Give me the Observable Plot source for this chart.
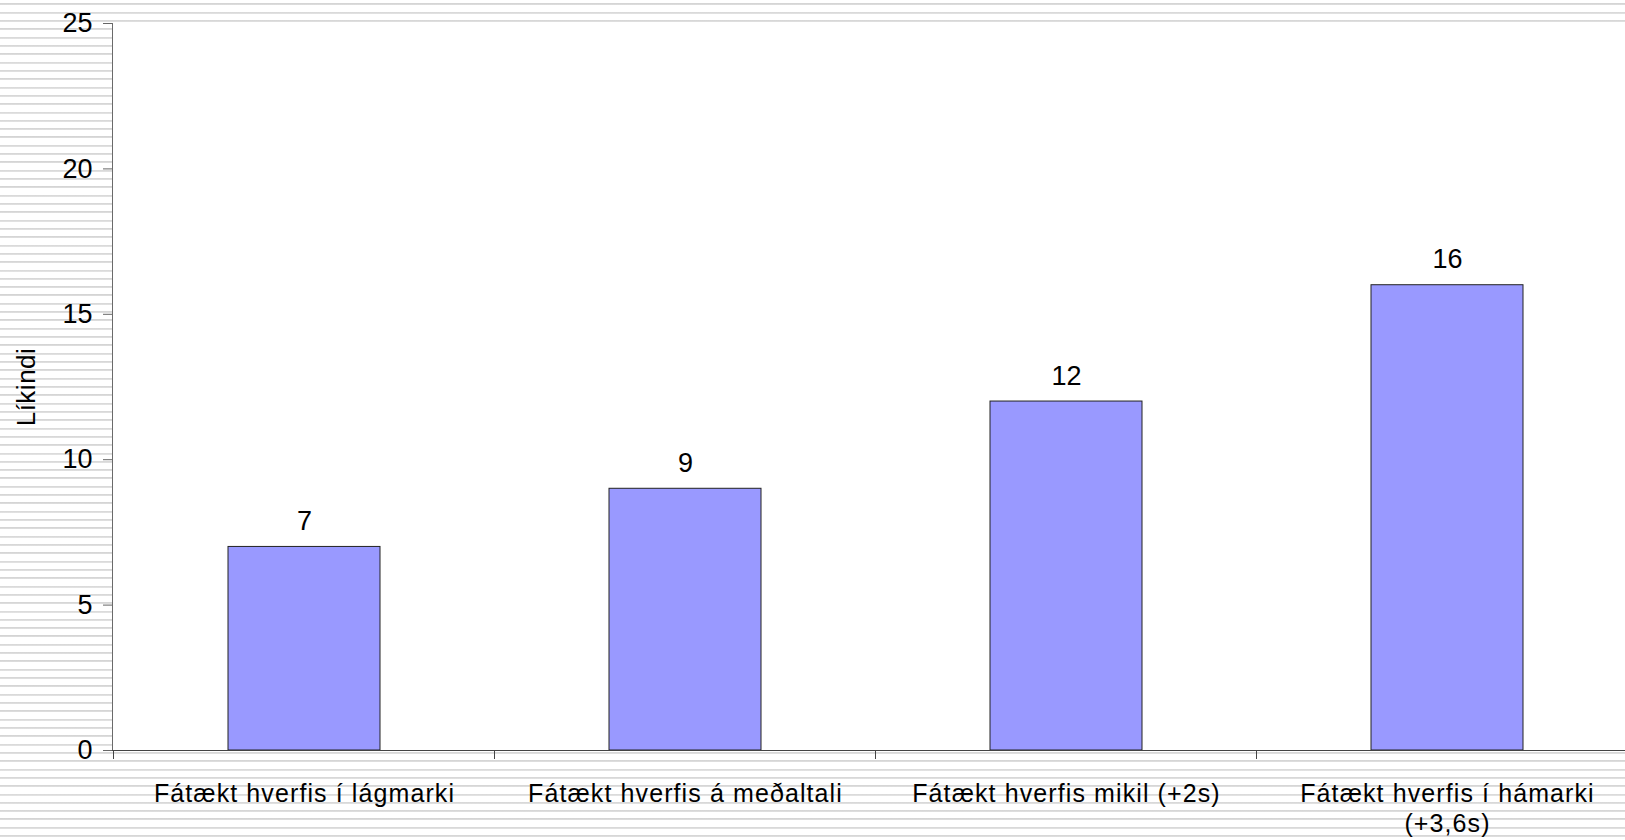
<!DOCTYPE html>
<html><head><meta charset="utf-8">
<script src="https://cdn.jsdelivr.net/npm/d3@7"></script>
<script src="https://cdn.jsdelivr.net/npm/@observablehq/plot@0.6"></script>
<style>
html,body{margin:0;padding:0;overflow:hidden;width:1625px;height:840px;}
body{background: repeating-linear-gradient(to bottom, #ffffff 0px, #ffffff 3.4px, #d4d4d4 3.4px, #e2e2e2 5.4px, #ffffff 5.4px, #ffffff 8.317px);}
#chart svg{display:block}
</style></head><body><div id="chart"></div>
<script>
const categories = [
  "Fátækt hverfis í lágmarki",
  "Fátækt hverfis á meðaltali",
  "Fátækt hverfis mikil (+2s)",
  "Fátækt hverfis í hámarki (+3,6s)"
];
const tickLabels = [
  "Fátækt hverfis í lágmarki",
  "Fátækt hverfis á meðaltali",
  "Fátækt hverfis mikil (+2s)",
  "Fátækt hverfis í hámarki\n(+3,6s)"
];
const values = [7, 9, 12, 16];
const yTicks = [0, 5, 10, 15, 20, 25];
const yLabel = "Líkindi";

const data = categories.map((c, i) => ({category: c, value: values[i]}));

const plot = Plot.plot({
  width: 1640,
  height: 840,
  marginLeft: 112,
  marginRight: 1,
  marginTop: 23,
  marginBottom: 90,
  style: {background: "transparent", fontFamily: "'Liberation Sans', Arial, sans-serif", fontSize: "27px", color: "#000", overflow: "visible", maxWidth: "none"},
  x: {domain: categories, paddingInner: 0.6, paddingOuter: 0.3, label: null},
  y: {domain: [0, 25], label: null},
  marks: [
    Plot.frame({fill: "white", stroke: "none"}),
    Plot.barY(data, {x: "category", y: "value", fill: "#9999ff", stroke: "#222", strokeWidth: 1}),
    Plot.text(data, {x: "category", y: "value", text: d => String(d.value), lineAnchor: "bottom", dy: -17, fontSize: 27, fill: "#000"}),
    Plot.axisY({ticks: yTicks, tickSize: 9, tickPadding: 11, stroke: "#666", fill: "#000", label: yLabel, labelAnchor: "center", labelArrow: "none", labelOffset: 96, fontSize: 27}),
    Plot.axisX({tickSize: 0, tickPadding: 30.5, tickFormat: d => tickLabels[categories.indexOf(d)], lineHeight: 1.2, fill: "#000", label: null, fontSize: 25}),
    Plot.frame({anchor: "left", stroke: "#6a6a6a"}),
    Plot.frame({anchor: "bottom", stroke: "#444"})
  ]
});

// category boundary tick marks, placed from the library's band scale
const xs = plot.scale("x");
const half = xs.step / 2;
const edges = categories.map(c => xs.apply(c) + xs.bandwidth / 2 - half);
edges.push(xs.apply(categories[categories.length - 1]) + xs.bandwidth / 2 + half);
const ys = plot.scale("y");
const y0 = ys.apply(0);
d3.select(plot).append("g")
  .attr("stroke", "#444")
  .selectAll("line").data(edges).join("line")
  .attr("x1", d => d).attr("x2", d => d)
  .attr("y1", y0).attr("y2", y0 + 9);

// text styling: category labels and axis title are slightly spaced out
d3.select(plot).selectAll("[aria-label='x-axis tick label']").style("letter-spacing", "1.1px");
d3.select(plot).selectAll("[aria-label='y-axis label']").style("font-size", "26px").style("letter-spacing", "0.5px");

document.getElementById("chart").appendChild(plot);
</script>
</body></html>
